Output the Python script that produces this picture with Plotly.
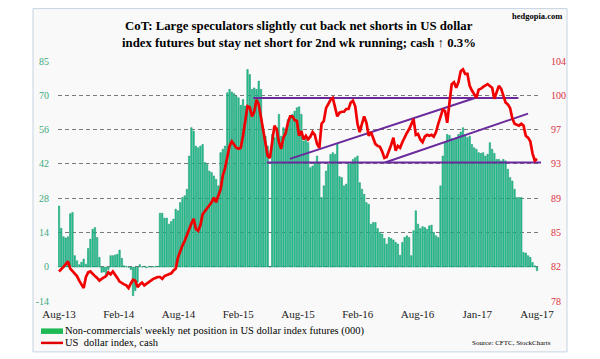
import numpy as np
import plotly.graph_objects as go

# ---------------- data ----------------
net_position = [
    25.2, 16, 12.5, 12, 12.5, 22, 22.5, 4.7, 2.6, 1, 2, 3.3, 1.2, 7.7, 11.5, 15.6, 16.3, 12.2, 4, -2.2,
    -2, -3.6, -1, 4.7, 4.7, 5, 5.3, 7, 3.6, 0.5, 0.3, -0.1, -1, -11.8, -9.7, -6.3, 1, 0, 0.3, -0.3,
    0.3, 0, 0.1, 0.3, 0.3, 22.2, 22.2, 20.2, 20.2, 17.7, 18.8, 19.8, 23.9,
    23.2, 26.6, 28.7, 29.4, 32.1, 45.8, 57.5, 56.1, 49.9, 49.2, 49.9, 50.6, 43.1, 42.4, 39.6, 39.0,
    37.6, 36.2, 33.5, 47.2, 48.6, 49.9, 71.9, 73.3, 72.2, 71.6, 70.5, 69.8, 66.7, 69.1, 66.4, 81.5,
    79.4, 73.3, 73.9, 73.3, 76.7, 73.3, 56.8, 54.0, 49.9, 0, 54.7, 53.4, 57.5, 63.0, 54.0, 57.5,
    56.8, 60.9, 61.6, 63.0, 64.3, 65.7,
    66.1, 63.0, 52.0, 52.7, 51.3, 41.0, 41.7, 43.3, 45.8, 42.4, 28.7, 33.5, 39.6, 42.4, 46.5, 47.2,
    46.5, 51.0, 37.3, 36.9, 33.5, 34.2, 42.4, 43.1, 44.4, 45.1, 45.8, 34.8, 32.1, 30.0, 26.6, 25.9,
    17.7, 18.4, 18.4, 15.9, 14.3, 13.6, 11.8, 9.5, 12.2, 11.8, 11.2, 10.2, 9.5, 4.9, 10.2, 12.2,
    12.9, 12.2, 4.7, 15.0, 23.2, 17.7,
    15.9, 16.7, 16.3, 15.6, 17.0, 17.3, 14.3, 12.9, 12.2, 33.5, 45.8, 51.3, 54.7, 54.3, 53.0, 52.7,
    53.4, 54.7, 55.7, 57.5, 54.3, 53.4, 54.0, 50.6, 49.2, 48.6, 47.2, 46.9, 47.2, 45.8, 46.5, 51.3,
    48.6, 46.9, 44.4, 44.4, 43.8, 44.4, 43.8, 40.3, 36.9, 35.5, 32.1, 28.7, 28.7, 28.7, 6.0, 5.8,
    4.7, 4.0, 1.9, 0.5, -1.5,
]

usd_index = [
    81.2, 81.4, 81.7, 82.0, 82.3, 81.5, 81.2, 80.9, 80.7, 80.2, 79.8, 79.4, 80.6, 81.1, 81.2, 80.9,
    80.7, 80.5, 80.2, 80.4, 80.6, 80.7, 81.1, 80.9, 81.2, 80.9, 80.5, 80.1, 79.9, 79.8, 79.7, 79.4,
    79.9, 80.3, 80.2, 79.5, 79.8, 80.0, 79.7, 79.9, 80.1, 80.3, 80.4, 80.5, 80.6, 80.6, 80.4, 80.7,
    80.8, 80.9, 81.0, 81.3, 81.5,
    82.7, 83.4, 84.0, 84.5, 85.2, 85.9, 86.4, 86.9, 85.8, 85.6, 86.2, 87.4, 87.7, 88.0, 88.4, 88.7,
    89.2, 88.7, 89.4, 90.1, 91.6, 92.4, 93.6, 94.8, 95.3, 94.9, 94.6, 94.5, 94.6, 95.9, 97.8, 99.1,
    99.0, 98.0, 98.5, 99.8, 99.3, 97.9, 96.6, 95.5, 93.7, 93.5, 95.5, 97.0, 96.6, 95.2, 94.5, 95.7,
    96.2, 97.3, 98.0, 98.0, 97.6, 97.5,
    95.9, 96.4, 95.5, 95.9, 95.5, 95.8, 96.3, 96.0, 95.0, 94.6, 97.2, 97.5, 98.9, 99.4, 99.8, 100.0,
    98.8, 98.0, 98.4, 98.5, 98.5, 98.8, 98.8, 99.5, 99.7, 99.1, 97.2, 96.3, 97.2, 98.0, 97.3, 95.9,
    96.3, 95.7, 95.0, 94.8, 94.7, 94.2, 93.5, 93.6, 94.2, 94.9, 95.7, 94.3, 94.8, 94.6, 95.2, 95.8,
    96.2, 96.6, 97.2, 97.7, 96.0, 96.1,
    95.5, 95.2, 95.8, 96.0, 95.9, 96.0, 95.8, 96.3, 97.2, 98.0, 98.7, 98.6, 97.3, 99.5, 101.5, 101.7,
    101.1, 101.7, 102.9, 103.1, 102.6, 102.6, 101.3, 100.8, 100.4, 100.0, 100.9, 101.0, 101.2, 101.4,
    101.5, 101.3, 101.1, 99.9, 100.6, 101.3, 101.0, 100.2, 99.5, 99.3, 98.9, 97.8, 97.2, 97.1, 97.0,
    97.2, 97.0, 95.9, 95.7, 95.3, 94.0, 93.2, 93.4,
]

x_labels = ["Aug-13", "Feb-14", "Aug-14", "Feb-15", "Aug-15", "Feb-16", "Aug-16", "Jan-17", "Aug-17"]
left_tick_text = ["-14", "0", "14", "28", "42", "56", "70", "85"]
right_tick_text = ["78", "82", "85", "89", "93", "97", "100", "104"]

# trend lines (week index, US dollar index level)
trend_x0 = [86.6, 92.6, 102.9, 145.3]
trend_x1 = [204.7, 215.0, 186.7, 209.0]
trend_y0 = [100.0, 93.0, 93.4, 93.0]
trend_y1 = [100.0, 93.0, 100.1, 98.3]

# ---------------- figure ----------------
N = len(net_position)
weeks = np.arange(N)

W, H = 600, 359
PL, PR, PT, PB = 58, 541, 60.5, 301
ppi = (537 - 59) / (N - 1)
x_range = [-(59 - PL) / ppi, (N - 1) + (PR - 537) / ppi]


def px(xp):
    return (xp - PL) / (PR - PL)


def py(yp):
    return (PB - yp) / (PB - PT)


serif = "Liberation Serif"

fig = go.Figure()
fig.add_bar(
    x=weeks, y=net_position,
    marker=dict(color="#29C694", line=dict(color="#12936C", width=0.5)),
    showlegend=False,
)
for a, b, c, d in zip(trend_x0, trend_x1, trend_y0, trend_y1):
    fig.add_scatter(x=[a, b], y=[c, d], yaxis="y2", mode="lines",
                    line=dict(color="#6A2A9C", width=2), showlegend=False)
fig.add_scatter(
    x=weeks, y=usd_index, yaxis="y2", mode="lines",
    line=dict(color="#F00000", width=2.7), showlegend=False,
)

fig.update_layout(
    width=W, height=H, autosize=False,
    margin=dict(l=PL, r=W - PR, t=PT, b=H - PB, pad=0),
    paper_bgcolor="white",
    plot_bgcolor="#FFFFF0",
    bargap=0.35,
    showlegend=False,
    xaxis=dict(
        range=x_range, showgrid=False, zeroline=False, showline=False,
        tickmode="array", tickvals=np.linspace(0, N - 1, len(x_labels)), ticktext=x_labels,
        tickfont=dict(family=serif, size=11, color="#222"),
        ticks="", ticklabelstandoff=5,
    ),
    yaxis=dict(
        range=[-14, 85], tickmode="array", tickvals=np.linspace(-14, 85, 8),
        ticktext=left_tick_text, showgrid=True, gridcolor="#7A7A7A", gridwidth=1,
        griddash="4px,3px", zeroline=False, showline=False, ticks="",
        tickfont=dict(family=serif, size=10, color="#3BAA7C"), ticklabelstandoff=8,
    ),
    yaxis2=dict(
        range=[78, 104], overlaying="y", side="right", tickmode="array",
        tickvals=np.linspace(78, 104, 8), ticktext=right_tick_text,
        showgrid=False, zeroline=False, showline=False, ticks="",
        tickfont=dict(family=serif, size=10, color="#D9303F"), ticklabelstandoff=9,
    ),
)

# chart frame
fig.add_shape(type="rect", xref="paper", yref="paper", layer="below",
              x0=px(33), x1=px(567), y0=py(352), y1=py(8),
              fillcolor="#F9F9F9", line=dict(color="#C6D3E2", width=1))


def note(text, xp, yp, size, xanchor="center", weight="normal"):
    fig.add_annotation(xref="paper", yref="paper", x=px(xp), y=py(yp),
                       xanchor=xanchor, yanchor="middle", showarrow=False, text=text,
                       font=dict(family=serif, size=size, color="black", weight=weight))


# title
note("CoT: Large speculators slightly cut back net shorts in US dollar", 299, 25, 12.8, weight="bold")
note("index futures but stay net short for 2nd wk running; cash \u2191 0.3%", 299, 42, 12.8, weight="bold")
note("hedgopia.com", 564, 15, 8.5, xanchor="right", weight="bold")

# legend (drawn manually)
fig.add_shape(type="rect", xref="paper", yref="paper", x0=px(41), x1=px(63),
              y0=py(334), y1=py(328.5), fillcolor="#1DB954", line=dict(width=0))
fig.add_shape(type="line", xref="paper", yref="paper", x0=px(41), x1=px(63),
              y0=py(343), y1=py(343), line=dict(color="#E00000", width=2.5))
note("Non-commercials' weekly net position in US dollar index futures (000)", 63, 331, 10.5, xanchor="left")
note("US  dollar index, cash", 63, 343, 10.5, xanchor="left")
note("Source: CFTC, StockCharts", 553, 343, 7, xanchor="right")

fig.write_html("out.html", config={"displayModeBar": False},
               post_script="document.body.style.margin='0';")
